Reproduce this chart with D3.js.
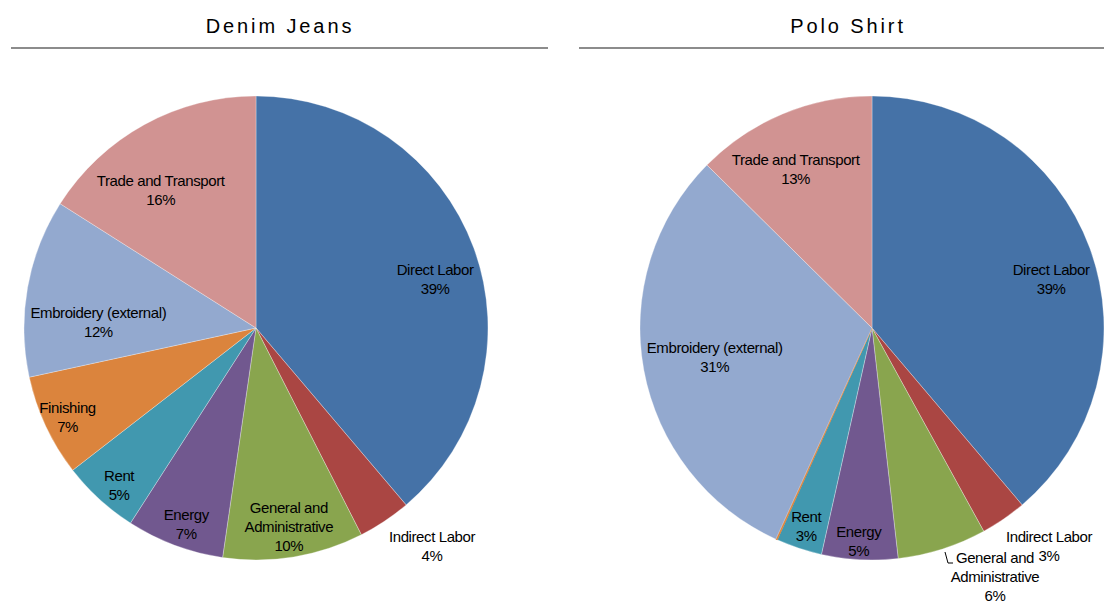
<!DOCTYPE html>
<html><head><meta charset="utf-8">
<script src="https://cdn.jsdelivr.net/npm/d3@7"></script>
<style>
body{margin:0;background:#fff;}
svg text{font-family:"Liberation Sans",Arial,sans-serif;}
</style></head>
<body>
<svg id="c" width="1104" height="603"></svg>
<script>
const categories = ["Direct Labor","Indirect Labor","General and Administrative","Energy","Rent","Finishing","Embroidery (external)","Trade and Transport"];
const denimValues = [38.8,3.7,9.8,6.8,5.4,7.1,12.4,16.0];
const poloValues = [38.8,3.2,6.2,5.3,3.2,0.1,30.6,12.6];
const chartTitles = ["Denim Jeans","Polo Shirt"];
const colors = ["#4572A7","#AA4643","#89A54E","#71588F","#4198AF","#DB843D","#93A9CF","#D19392"];

const svg = d3.select("#c");
const R = 232;

// label layout hints (radius factor, angle offset deg, line breaks)
const layouts = [
  { // denim
    "Direct Labor": {rf:0.8, da:5},
    "Indirect Labor": {abs:[432,546]},
    "General and Administrative": {rf:0.87, da:0, lines:["General and","Administrative"]},
    "Energy": {rf:0.9, da:-1},
    "Rent": {rf:0.9, da:-1.5},
    "Finishing": {rf:0.9, da:-0.5},
    "Embroidery (external)": {rf:0.68, da:-8},
    "Trade and Transport": {rf:0.72, da:-6}
  },
  { // polo
    "Direct Labor": {rf:0.8, da:5},
    "Indirect Labor": {abs:[1049,546]},
    "General and Administrative": {abs:[995,577], lines:["General and","Administrative"], leader:true},
    "Energy": {rf:0.92, da:0.5},
    "Rent": {rf:0.9, da:0},
    "Finishing": {hide:true},
    "Embroidery (external)": {rf:0.69, da:-0.2},
    "Trade and Transport": {rf:0.76, da:-3}
  }
];

const pie = d3.pie().sort(null).value(d => d.v);
const arc = d3.arc().innerRadius(0).outerRadius(R);
const LH = 19;

[denimValues, poloValues].forEach((vals, i) => {
  const cx = i === 0 ? 256 : 872, cy = 328;
  const tx = i === 0 ? 280 : 848;
  svg.append("text").attr("x", tx).attr("y", 33).attr("text-anchor","middle")
    .style("font-size","20px").style("letter-spacing","2.9px").attr("fill","#000")
    .text(chartTitles[i]);
  svg.append("line").attr("x1", i===0?11:579).attr("x2", i===0?548:1104)
    .attr("y1",48).attr("y2",48).attr("stroke","#8c8c8c").attr("stroke-width",2);

  const data = categories.map((c, k) => ({c, v: vals[k], col: colors[k]}));
  const arcs = pie(data);
  const totalV = d3.sum(vals);
  const g = svg.append("g").attr("transform", `translate(${cx},${cy})`);
  g.selectAll("path").data(arcs).join("path")
    .attr("d", arc)
    .attr("fill", d => d.data.col)
    .attr("stroke", d => d.data.v < 0.5 ? d.data.col : "#fff")
    .attr("stroke-width", d => d.data.v < 0.5 ? 1 : 0.5)
    .attr("stroke-opacity", d => d.data.v < 0.5 ? 1 : 0.6);

  const lay = layouts[i];
  arcs.forEach(a => {
    const L = lay[a.data.c] || {};
    if (L.hide) return;
    let x, y;
    if (L.abs) { x = L.abs[0] - cx; y = L.abs[1] - cy; }
    else {
      const ang = (a.startAngle + a.endAngle)/2 + (L.da||0)*Math.PI/180;
      x = Math.sin(ang) * R * L.rf; y = -Math.cos(ang) * R * L.rf;
    }
    const lines = (L.lines || [a.data.c]).concat([Math.round(a.data.v/totalV*100) + "%"]);
    const n = lines.length;
    const t = g.append("text").attr("text-anchor","middle")
      .style("font-size","15px").style("letter-spacing","-0.4px").attr("fill","#000");
    lines.forEach((ln, j) => {
      t.append("tspan").attr("x", x).attr("y", y + 5 + (j - (n-1)/2) * LH).text(ln);
    });
    if (L.leader) {
      const base = y + 5 - LH;
      g.append("path").attr("d", `M${x-50},${base-11}L${x-47},${base}L${x-42},${base}`)
        .attr("fill","none").attr("stroke","#000").attr("stroke-width",1);
    }
  });
});
</script>
</body></html>
